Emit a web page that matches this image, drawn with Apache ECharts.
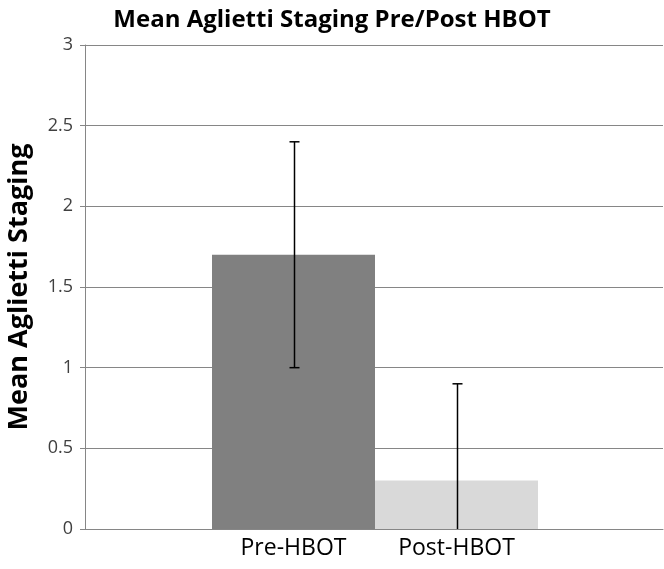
<!DOCTYPE html>
<html>
<head>
<meta charset="utf-8">
<script src="https://cdn.jsdelivr.net/npm/echarts@6/dist/echarts.min.js"></script>
<style>
  html, body { margin: 0; padding: 0; background: #fff; }
  #chart { width: 664px; height: 569px; }
</style>
</head>
<body>
<div id="chart"></div>
<script>
// chart data
const categories = ['Pre-HBOT', 'Post-HBOT']
const meanValues = [1.7, 0.3]
const errLow = [1.0, 0.0]
const errHigh = [2.4, 0.9]
const barColors = ['#808080', '#d9d9d9']

const font = '"Open Sans", "Noto Sans", sans-serif'
const chart = echarts.init(document.getElementById('chart'))

chart.setOption({
  backgroundColor: '#fff',
  animation: false,
  title: {
    text: 'Mean Aglietti Staging Pre/Post HBOT',
    left: 'center', top: 3,
    textStyle: { fontFamily: font, fontSize: 24, fontWeight: 'bold', color: '#000' },
  },
  grid: [
    { left: 85, right: 1, top: 45, bottom: 40, outerBoundsMode: 'none' },   // full plot area
    { left: 212, width: 326, top: 45, bottom: 40, outerBoundsMode: 'none' }, // bars
  ],
  xAxis: [
    {
      gridIndex: 0, type: 'category', data: [''],
      axisLine: { lineStyle: { color: '#868686' } },
      axisTick: { show: false }, axisLabel: { show: false },
    },
    {
      gridIndex: 1, type: 'category', data: categories,
      axisLine: { show: false }, axisTick: { show: false },
      axisLabel: { fontFamily: font, fontSize: 23, color: '#000', margin: 8 },
    },
  ],
  yAxis: [
    {
      gridIndex: 0, type: 'value', min: 0, max: 3, interval: 0.5,
      name: 'Mean Aglietti Staging', nameLocation: 'middle', nameGap: 52,
      nameTextStyle: { fontFamily: font, fontSize: 27, fontWeight: 'bold', color: '#000' },
      axisLine: { show: true, lineStyle: { color: '#868686' } },
      axisTick: { show: true, length: 5, lineStyle: { color: '#868686' } },
      axisLabel: { fontFamily: font, fontSize: 18, color: '#404040', margin: 12 },
      splitLine: { lineStyle: { color: '#868686' } },
    },
    {
      gridIndex: 1, type: 'value', min: 0, max: 3, show: false,
    },
  ],
  series: [
    {
      type: 'bar', xAxisIndex: 1, yAxisIndex: 1,
      barWidth: '100%',
      data: meanValues.map((v, i) => ({ value: v, itemStyle: { color: barColors[i] } })),
    },
    {
      type: 'custom', xAxisIndex: 1, yAxisIndex: 1, z: 10,
      data: categories.map((c, i) => [i, errLow[i], errHigh[i]]),
      renderItem(params, api) {
        const lo = api.coord([api.value(0), api.value(1)])
        const hi = api.coord([api.value(0), api.value(2)])
        const x = Math.round(lo[0]) + 0.5
        const style = { stroke: '#000', lineWidth: 1.5 }
        const parts = [
          { type: 'line', shape: { x1: x, y1: lo[1], x2: x, y2: hi[1] }, style },
          { type: 'line', shape: { x1: x - 5, y1: hi[1], x2: x + 5, y2: hi[1] }, style },
        ]
        // no lower cap where it would sit on the axis
        if (api.value(1) > 0) {
          parts.push({ type: 'line', shape: { x1: x - 5, y1: lo[1], x2: x + 5, y2: lo[1] }, style })
        }
        return { type: 'group', children: parts }
      },
    },
  ],
})
</script>
</body>
</html>
